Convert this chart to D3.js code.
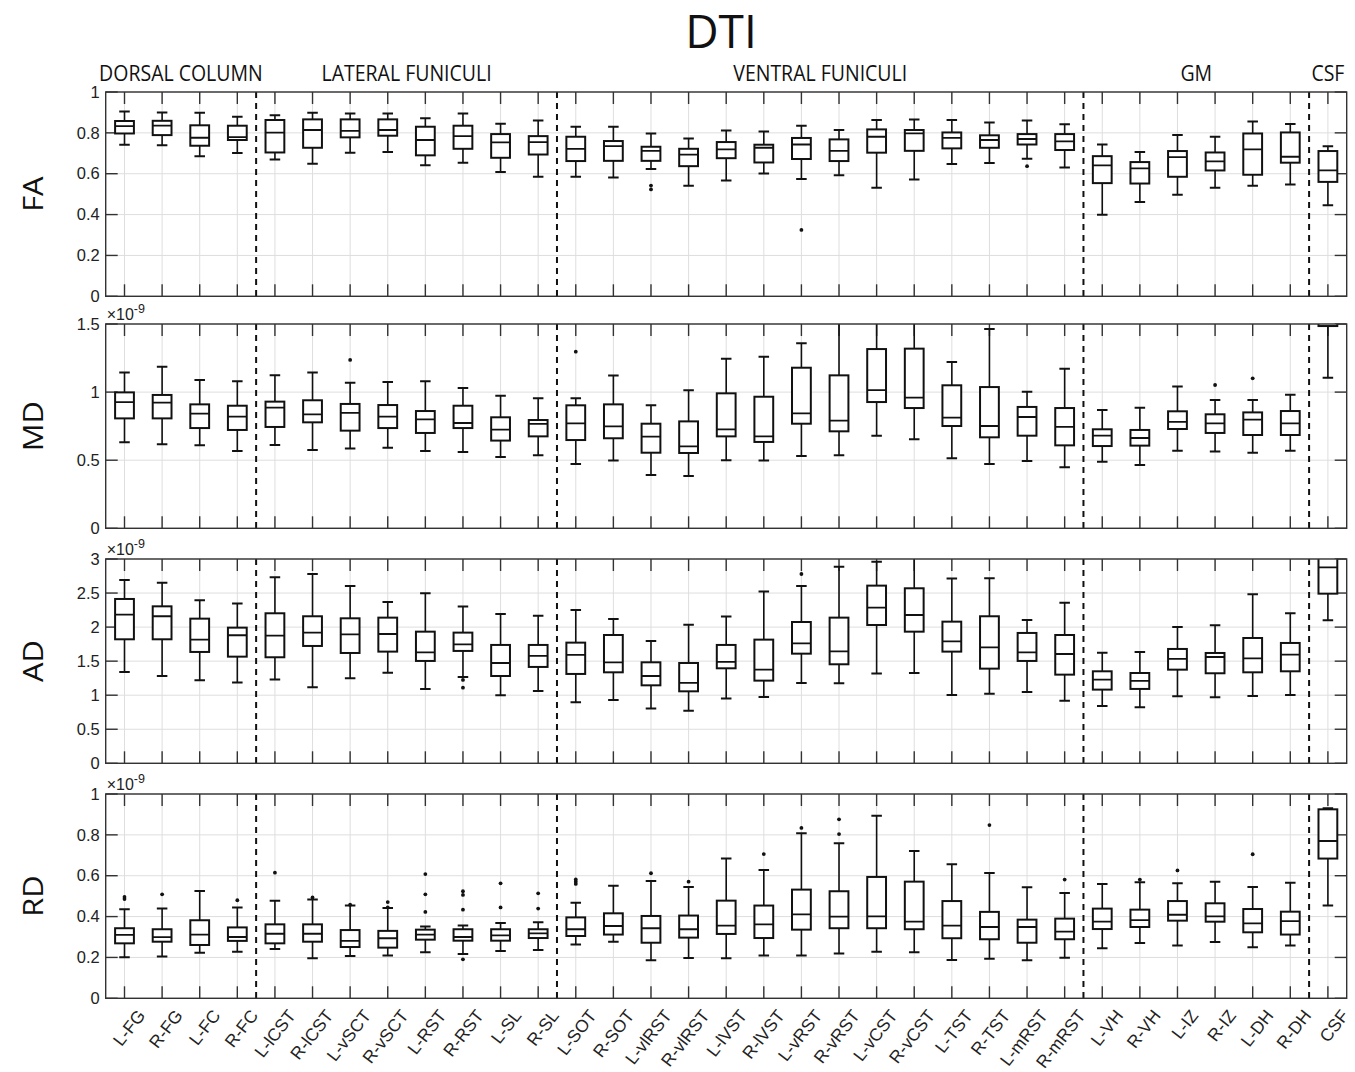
<!DOCTYPE html>
<html><head><meta charset="utf-8">
<script src="https://cdn.jsdelivr.net/npm/d3@7"></script>
<style>body{margin:0;background:#fff}</style>
</head><body>
<svg id="chart" width="1355" height="1072"></svg>
<script>
// Tract / region names along the cord cross-section
const categories = ["L-FG","R-FG","L-FC","R-FC","L-lCST","R-lCST","L-vSCT","R-vSCT","L-RST","R-RST","L-SL","R-SL",
  "L-SOT","R-SOT","L-vlRST","R-vlRST","L-lVST","R-lVST","L-vRST","R-vRST","L-vCST","R-vCST","L-TST","R-TST","L-mRST","R-mRST",
  "L-VH","R-VH","L-IZ","R-IZ","L-DH","R-DH","CSF"];

// Anatomical groups (first and last category index)
const groups = [
  {name: "DORSAL COLUMN", from: 0, to: 3},
  {name: "LATERAL FUNICULI", from: 4, to: 11},
  {name: "VENTRAL FUNICULI", from: 12, to: 25},
  {name: "GM", from: 26, to: 31},
  {name: "CSF", from: 32, to: 32}
];

// Five-number summaries per category: [lower whisker, Q1, median, Q3, upper whisker]
const faStats = [
  [0.742,0.797,0.833,0.858,0.904],[0.739,0.789,0.835,0.859,0.900],[0.685,0.737,0.776,0.837,0.899],[0.701,0.765,0.779,0.835,0.879],
  [0.670,0.704,0.801,0.863,0.886],[0.649,0.727,0.814,0.866,0.899],[0.703,0.778,0.810,0.866,0.895],[0.706,0.786,0.814,0.866,0.895],
  [0.641,0.690,0.765,0.830,0.871],[0.654,0.722,0.784,0.835,0.895],[0.608,0.678,0.753,0.794,0.845],[0.585,0.694,0.755,0.784,0.861],
  [0.585,0.662,0.722,0.781,0.830],[0.582,0.663,0.735,0.760,0.830],[0.623,0.663,0.712,0.732,0.797],[0.541,0.637,0.693,0.722,0.773],
  [0.567,0.676,0.719,0.755,0.812],[0.601,0.655,0.727,0.742,0.807],[0.574,0.672,0.743,0.775,0.835],[0.592,0.662,0.712,0.768,0.814],
  [0.531,0.703,0.781,0.817,0.863],[0.572,0.712,0.797,0.814,0.866],[0.647,0.724,0.775,0.802,0.863],[0.652,0.727,0.765,0.788,0.851],
  [0.673,0.743,0.770,0.794,0.861],[0.631,0.716,0.758,0.794,0.842],
  [0.399,0.554,0.641,0.686,0.743],[0.462,0.552,0.626,0.657,0.706],[0.497,0.585,0.681,0.711,0.789],[0.531,0.616,0.660,0.704,0.781],
  [0.541,0.595,0.719,0.797,0.855],[0.547,0.654,0.683,0.802,0.843],
  [0.446,0.560,0.616,0.711,0.734]
];
const faOutliers = [[14,0.542],[14,0.523],[18,0.325],[24,0.637]];

// Mean diffusivity (x1e-9)
const mdStats = [
  [0.631,0.807,0.927,0.998,1.143],[0.617,0.807,0.922,0.979,1.187],[0.609,0.736,0.842,0.910,1.089],[0.568,0.722,0.820,0.900,1.079],
  [0.612,0.744,0.886,0.930,1.123],[0.575,0.778,0.837,0.940,1.143],[0.585,0.717,0.847,0.913,1.069],[0.592,0.736,0.820,0.905,1.074],
  [0.568,0.700,0.800,0.861,1.079],[0.560,0.736,0.773,0.900,1.030],[0.524,0.644,0.724,0.815,0.974],[0.536,0.675,0.766,0.795,0.954],
  [0.472,0.648,0.771,0.903,0.954],[0.497,0.661,0.749,0.910,1.121],[0.391,0.555,0.673,0.768,0.903],[0.384,0.553,0.602,0.785,1.013],
  [0.499,0.675,0.727,0.991,1.245],[0.497,0.634,0.675,0.966,1.260],[0.531,0.768,0.844,1.179,1.358],[0.536,0.712,0.790,1.123,1.560],
  [0.680,0.927,1.015,1.316,1.600],[0.653,0.883,0.959,1.319,1.580],[0.514,0.751,0.812,1.050,1.221],[0.472,0.668,0.751,1.037,1.463],
  [0.494,0.680,0.817,0.891,1.003],[0.448,0.609,0.744,0.883,1.172],
  [0.489,0.604,0.680,0.727,0.869],[0.465,0.607,0.663,0.722,0.886],[0.570,0.729,0.781,0.859,1.042],[0.563,0.700,0.771,0.837,0.942],
  [0.555,0.685,0.798,0.851,0.942],[0.570,0.685,0.771,0.861,0.981],
  [1.106,1.485,1.650,1.850,2.200]
];
const mdOutliers = [[6,1.236],[12,1.297],[29,1.052],[30,1.101]];

// Axial diffusivity (x1e-9)
const adStats = [
  [1.341,1.821,2.183,2.413,2.692],[1.282,1.821,2.159,2.305,2.653],[1.219,1.635,1.816,2.124,2.394],[1.185,1.566,1.880,1.992,2.345],
  [1.229,1.557,1.875,2.203,2.731],[1.116,1.723,1.919,2.159,2.780],[1.248,1.620,1.894,2.129,2.604],[1.331,1.640,1.899,2.139,2.369],
  [1.092,1.503,1.630,1.933,2.496],[1.268,1.650,1.747,1.919,2.301],[0.999,1.282,1.473,1.738,2.193],[1.062,1.415,1.576,1.738,2.168],
  [0.896,1.312,1.591,1.772,2.252],[0.930,1.336,1.483,1.884,2.119],[0.803,1.145,1.282,1.483,1.796],[0.773,1.057,1.180,1.473,2.036],
  [0.950,1.395,1.488,1.738,2.154],[0.974,1.214,1.375,1.816,2.521],[1.180,1.610,1.762,2.075,2.604],[1.175,1.454,1.645,2.139,2.888],
  [1.317,2.031,2.286,2.609,2.961],[1.326,1.933,2.178,2.570,3.050],[1.003,1.640,1.791,2.080,2.712],[1.023,1.390,1.703,2.159,2.717],
  [1.047,1.503,1.630,1.914,2.105],[0.920,1.302,1.605,1.884,2.359],
  [0.842,1.082,1.229,1.351,1.625],[0.822,1.092,1.209,1.326,1.635],[0.984,1.375,1.532,1.679,2.002],[0.969,1.322,1.561,1.620,2.026],
  [0.989,1.336,1.542,1.840,2.482],[1.003,1.351,1.596,1.767,2.203],
  [2.100,2.491,2.878,3.200,3.600]
];
const adOutliers = [[9,1.224],[9,1.111],[18,2.780]];

// Radial diffusivity (x1e-9)
const rdStats = [
  [0.201,0.269,0.310,0.343,0.436],[0.204,0.277,0.299,0.338,0.440],[0.223,0.261,0.312,0.382,0.525],[0.228,0.281,0.300,0.347,0.444],
  [0.241,0.269,0.316,0.362,0.478],[0.196,0.277,0.316,0.362,0.483],[0.207,0.251,0.281,0.334,0.454],[0.209,0.248,0.294,0.330,0.442],
  [0.225,0.287,0.312,0.336,0.351],[0.217,0.282,0.300,0.338,0.356],[0.232,0.282,0.308,0.338,0.369],[0.237,0.295,0.318,0.338,0.372],
  [0.263,0.305,0.338,0.396,0.468],[0.277,0.312,0.354,0.416,0.551],[0.186,0.272,0.343,0.403,0.574],[0.197,0.297,0.338,0.405,0.545],
  [0.196,0.315,0.356,0.478,0.684],[0.209,0.295,0.362,0.454,0.628],[0.209,0.336,0.411,0.532,0.808],[0.219,0.343,0.400,0.524,0.759],
  [0.228,0.343,0.401,0.594,0.894],[0.225,0.338,0.375,0.571,0.721],[0.188,0.294,0.356,0.476,0.656],[0.194,0.289,0.349,0.423,0.613],
  [0.186,0.272,0.349,0.385,0.543],[0.199,0.289,0.326,0.390,0.516],
  [0.245,0.339,0.375,0.439,0.560],[0.271,0.349,0.383,0.434,0.568],[0.259,0.380,0.409,0.476,0.563],[0.276,0.375,0.401,0.465,0.571],
  [0.250,0.323,0.367,0.437,0.545],[0.258,0.312,0.378,0.424,0.566],
  [0.454,0.684,0.770,0.925,0.930]
];
const rdOutliers = [[0,0.496],[0,0.486],[1,0.509],[3,0.480],[4,0.615],[5,0.494],[6,0.458],[7,0.471],[7,0.445],
  [8,0.608],[8,0.509],[8,0.423],[9,0.524],[9,0.506],[9,0.434],[9,0.191],[10,0.563],[10,0.445],[11,0.514],[11,0.439],
  [12,0.582],[12,0.571],[12,0.560],[14,0.612],[15,0.571],[17,0.706],[18,0.834],[19,0.876],[19,0.804],[23,0.848],
  [25,0.581],[27,0.581],[28,0.626],[30,0.705]];

// Y-axis tick values for each metric
const faTicks = [0, 0.2, 0.4, 0.6, 0.8, 1];
const mdTicks = [0, 0.5, 1, 1.5];
const adTicks = [0, 0.5, 1, 1.5, 2, 2.5, 3];
const rdTicks = [0, 0.2, 0.4, 0.6, 0.8, 1];

const panels = [
  {label: "FA", stats: faStats, outliers: faOutliers, ticks: faTicks, max: 1,   exponent: false, top: 92},
  {label: "MD", stats: mdStats, outliers: mdOutliers, ticks: mdTicks, max: 1.5, exponent: true,  top: 324},
  {label: "AD", stats: adStats, outliers: adOutliers, ticks: adTicks, max: 3,   exponent: true,  top: 559},
  {label: "RD", stats: rdStats, outliers: rdOutliers, ticks: rdTicks, max: 1,   exponent: true,  top: 794}
];

const svg = d3.select("#chart");
const left = 105.7, right = 1346.7, panelH = 204.3;
const axisColor = "#333", gridColor = "#dedede";
const tickFont = "'Liberation Sans', Arial, sans-serif";
const labelFont = "'Open Sans', 'Noto Sans', sans-serif";

const x = d3.scaleBand().domain(categories).range([left, right]).padding(0);
const cx = c => x(c) + x.bandwidth() / 2;
const boxW = x.bandwidth() * 0.5, capW = x.bandwidth() * 0.28;

// Title and group headings
svg.append("text").attr("x", 721).attr("y", 48).attr("text-anchor", "middle")
  .attr("font-family", labelFont).attr("font-size", 46).attr("fill", "#111").text("DTI");

svg.selectAll("text.group").data(groups).join("text")
  .attr("class", "group")
  .attr("transform", g => `translate(${(x(categories[g.from]) + x(categories[g.to]) + x.bandwidth()) / 2},81) scale(1,1.15)`)
  .attr("text-anchor", "middle")
  .attr("font-family", labelFont).attr("font-size", 19.5).attr("fill", "#111")
  .text(g => g.name);

// Boundaries between anatomical groups
const dividers = groups.slice(1).map(g => x(categories[g.from]));

panels.forEach((p, pi) => {
  const y = d3.scaleLinear().domain([0, p.max]).range([p.top + panelH, p.top]);
  const g = svg.append("g");
  const clipId = "clip" + pi;
  svg.append("clipPath").attr("id", clipId).append("rect")
    .attr("x", left).attr("y", p.top).attr("width", right - left).attr("height", panelH);

  // grid
  g.selectAll("line.vgrid").data(categories).join("line")
    .attr("x1", cx).attr("x2", cx).attr("y1", p.top).attr("y2", p.top + panelH)
    .attr("stroke", gridColor).attr("stroke-width", 1);
  g.selectAll("line.hgrid").data(p.ticks).join("line").attr("class", "hgrid")
    .attr("x1", left).attr("x2", right).attr("y1", d => y(d)).attr("y2", d => y(d))
    .attr("stroke", gridColor).attr("stroke-width", 1);

  // group dividers
  g.selectAll("line.div").data(dividers).join("line").attr("class", "div")
    .attr("x1", d => d).attr("x2", d => d).attr("y1", p.top).attr("y2", p.top + panelH)
    .attr("stroke", "#111").attr("stroke-width", 2).attr("stroke-dasharray", "6,5");

  // inward ticks on all four sides
  const tickLen = 12;
  const tk = g.append("g").attr("stroke", axisColor).attr("stroke-width", 1.4);
  categories.forEach(c => {
    tk.append("line").attr("x1", cx(c)).attr("x2", cx(c)).attr("y1", p.top + panelH).attr("y2", p.top + panelH - tickLen);
    tk.append("line").attr("x1", cx(c)).attr("x2", cx(c)).attr("y1", p.top).attr("y2", p.top + tickLen);
  });
  p.ticks.forEach(t => {
    tk.append("line").attr("x1", left).attr("x2", left + tickLen).attr("y1", y(t)).attr("y2", y(t));
    tk.append("line").attr("x1", right).attr("x2", right - tickLen).attr("y1", y(t)).attr("y2", y(t));
  });

  // boxes
  const bx = g.append("g").attr("clip-path", `url(#${clipId})`);
  const rows = p.stats.map((s, i) => ({c: categories[i], s}));
  const b = bx.selectAll("g.box").data(rows).join("g").attr("class", "box")
    .attr("stroke", "#111").attr("fill", "none");
  b.append("line").attr("x1", d => cx(d.c)).attr("x2", d => cx(d.c))
    .attr("y1", d => y(d.s[3])).attr("y2", d => y(d.s[4])).attr("stroke-width", 1.6);
  b.append("line").attr("x1", d => cx(d.c)).attr("x2", d => cx(d.c))
    .attr("y1", d => y(d.s[1])).attr("y2", d => y(d.s[0])).attr("stroke-width", 1.6);
  b.append("line").attr("x1", d => cx(d.c) - capW / 2).attr("x2", d => cx(d.c) + capW / 2)
    .attr("y1", d => y(d.s[4])).attr("y2", d => y(d.s[4])).attr("stroke-width", 2);
  b.append("line").attr("x1", d => cx(d.c) - capW / 2).attr("x2", d => cx(d.c) + capW / 2)
    .attr("y1", d => y(d.s[0])).attr("y2", d => y(d.s[0])).attr("stroke-width", 2);
  b.append("rect").attr("x", d => cx(d.c) - boxW / 2).attr("width", boxW)
    .attr("y", d => y(d.s[3])).attr("height", d => y(d.s[1]) - y(d.s[3]))
    .attr("fill", "#fff").attr("stroke-width", 2);
  b.append("line").attr("x1", d => cx(d.c) - boxW / 2).attr("x2", d => cx(d.c) + boxW / 2)
    .attr("y1", d => y(d.s[2])).attr("y2", d => y(d.s[2])).attr("stroke-width", 1.8);

  bx.selectAll("circle").data(p.outliers).join("circle")
    .attr("cx", d => cx(categories[d[0]])).attr("cy", d => y(d[1])).attr("r", 1.9).attr("fill", "#111");

  // frame
  g.append("rect").attr("x", left).attr("y", p.top).attr("width", right - left).attr("height", panelH)
    .attr("fill", "none").attr("stroke", axisColor).attr("stroke-width", 1.4);

  // y tick labels
  g.selectAll("text.yt").data(p.ticks).join("text").attr("class", "yt")
    .attr("x", left - 6).attr("y", d => y(d)).attr("dy", "0.35em").attr("text-anchor", "end")
    .attr("font-family", tickFont).attr("font-size", 16.5).attr("fill", "#222")
    .text(d => String(+d.toFixed(1)));

  // exponent
  if (p.exponent) {
    const e = g.append("text").attr("x", left + 1).attr("y", p.top - 4)
      .attr("font-family", tickFont).attr("font-size", 16).attr("fill", "#222");
    e.append("tspan").text("\u00d710");
    e.append("tspan").attr("dy", -7).attr("font-size", 12.5).text("-9");
  }

  // metric label
  svg.append("text").attr("transform", `translate(43,${p.top + panelH / 2}) rotate(-90) scale(1.1,1)`)
    .attr("text-anchor", "middle").attr("font-family", labelFont).attr("font-size", 28).attr("fill", "#111")
    .text(p.label);

  // category labels under the last panel
  if (pi === panels.length - 1) {
    svg.selectAll("text.xt").data(categories).join("text").attr("class", "xt")
      .attr("transform", c => `translate(${cx(c) + 12},${p.top + panelH + 10}) rotate(-52)`)
      .attr("text-anchor", "end").attr("dy", "0.7em")
      .attr("font-family", tickFont).attr("font-size", 17.5).attr("fill", "#222")
      .text(c => c);
  }
});
</script>
</body></html>
